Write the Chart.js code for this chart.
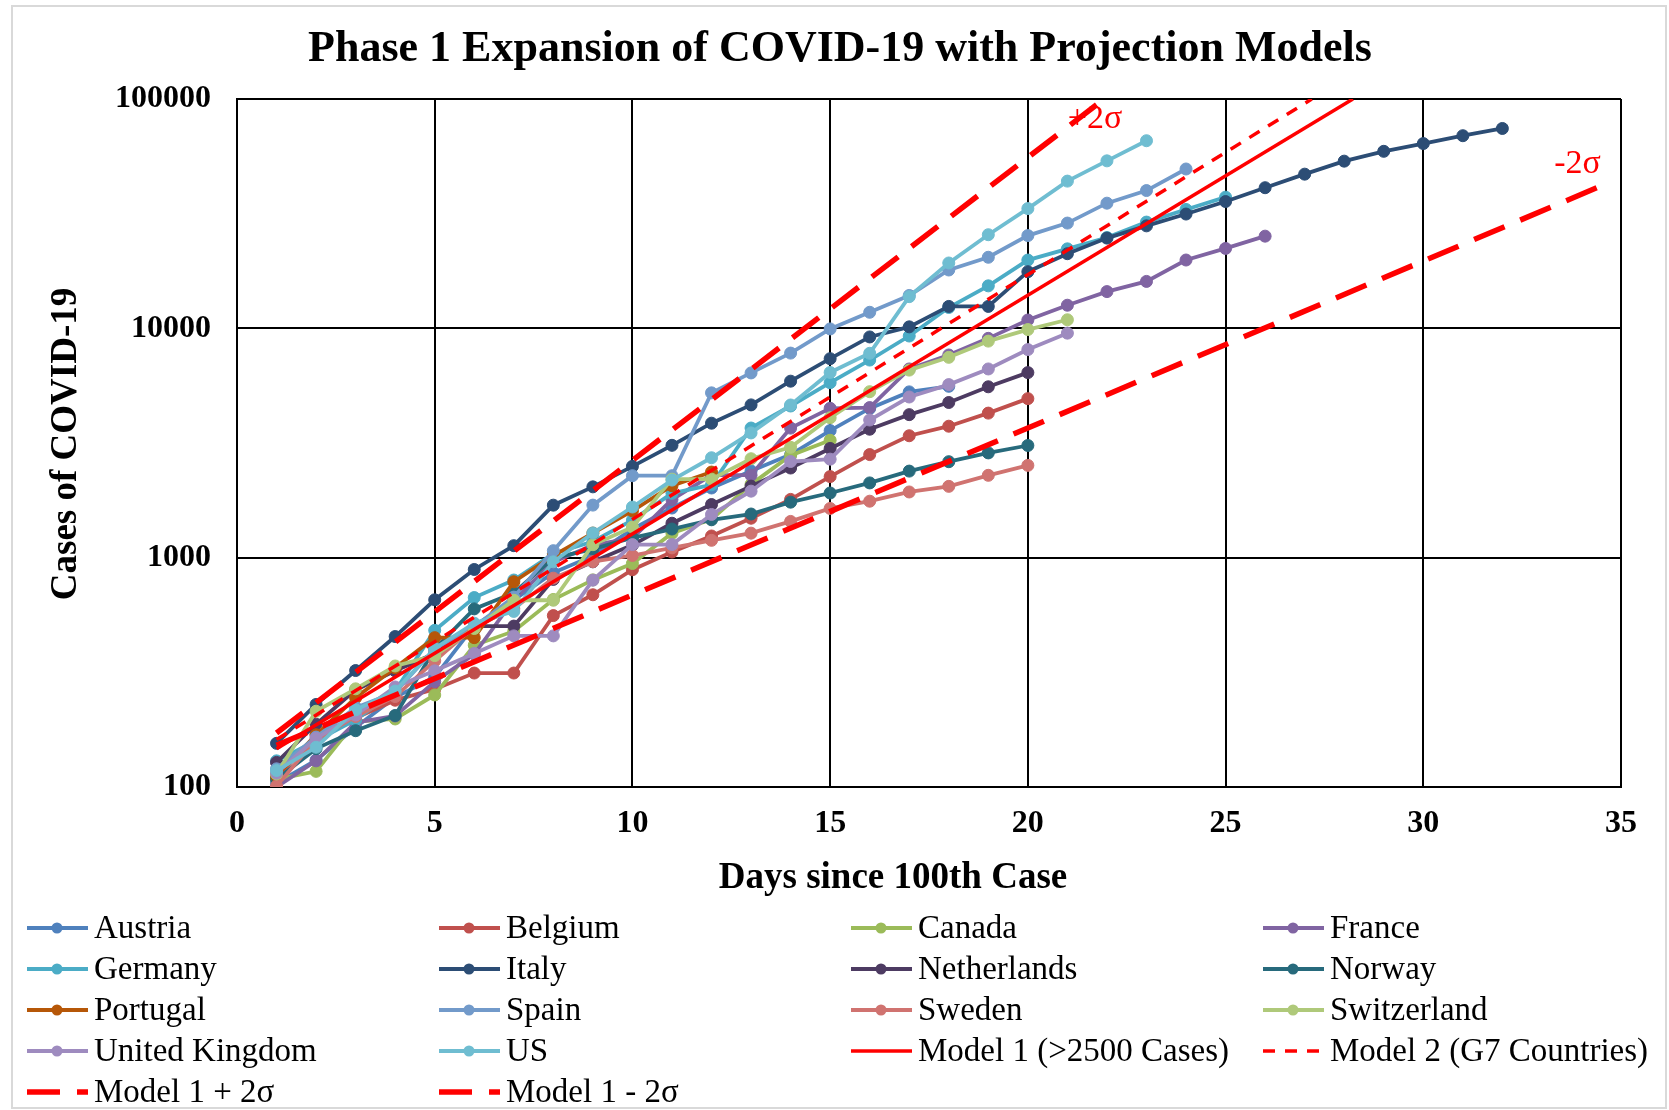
<!DOCTYPE html>
<html>
<head>
<meta charset="utf-8">
<title>Phase 1 Expansion of COVID-19 with Projection Models</title>
<script src="https://cdn.jsdelivr.net/npm/chart.js@4.4.1/dist/chart.umd.min.js"></script>
<style>
  html, body { margin: 0; padding: 0; background: #fff; }
  #wrap { width: 1669px; height: 1110px; position: relative; }
</style>
</head>
<body>
<div id="wrap"><canvas id="covidChart"></canvas></div>
<script>
// cases per day since the 100th case
const austria = [104, 131, 182, 246, 302, 504, 655, 860, 1018, 1332, 1646, 2013, 2388, 2814, 3582, 4474, 5283, 5588];
const belgium = [109, 169, 200, 239, 267, 314, 314, 559, 689, 886, 1058, 1243, 1486, 1795, 2257, 2815, 3401, 3743, 4269, 4937];
const canada = [108, 117, 193, 198, 252, 415, 478, 657, 800, 943, 1277, 1469, 2088, 2790, 3251];
const france = [100, 130, 191, 204, 288, 380, 656, 957, 1134, 1217, 1792, 2290, 2290, 3672, 4480, 4513, 6650, 7652, 9043, 10871, 12612, 14459, 16018, 19856, 22304, 25233];
const germany = [130, 159, 196, 262, 482, 670, 799, 1040, 1176, 1457, 1908, 2078, 3675, 4585, 5795, 7272, 9257, 12327, 15320, 19848, 22213, 24873, 29056, 32986, 37323];
const italy = [155, 229, 322, 453, 655, 888, 1128, 1694, 2036, 2502, 3089, 3858, 4636, 5883, 7375, 9172, 10149, 12462, 12462, 17660, 21157, 24747, 27980, 31506, 35713, 41035, 47021, 53578, 59138, 63927, 69176, 74386];
const netherlands = [128, 188, 265, 321, 382, 503, 503, 804, 959, 1135, 1413, 1705, 2051, 2460, 2994, 3631, 4204, 4749, 5560, 6412];
const norway = [108, 147, 176, 205, 400, 598, 702, 996, 1090, 1221, 1333, 1463, 1550, 1746, 1914, 2118, 2385, 2621, 2863, 3084];
const portugal = [112, 169, 245, 331, 448, 448, 785, 1020, 1280, 1600, 2060, 2362];
const spain = [120, 165, 222, 259, 400, 500, 673, 1073, 1695, 2277, 2277, 5232, 6391, 7798, 9942, 11748, 13910, 17963, 20410, 25374, 28768, 35136, 39885, 49515];
const sweden = [101, 161, 203, 248, 355, 500, 599, 814, 961, 1022, 1103, 1190, 1279, 1439, 1639, 1763, 1934, 2046, 2286, 2526];
const switzerland = [114, 214, 268, 337, 374, 491, 652, 652, 1139, 1359, 2200, 2200, 2700, 3028, 4075, 5294, 6575, 7474, 8795, 9877, 10897];
const unitedKingdom = [115, 163, 206, 273, 321, 382, 456, 456, 798, 1140, 1140, 1543, 1950, 2626, 2689, 3983, 5018, 5683, 6650, 8077, 9529];
const us = [118, 149, 217, 262, 402, 518, 583, 959, 1281, 1663, 2179, 2727, 3499, 4632, 6421, 7783, 13747, 19273, 25600, 33276, 43843, 53740, 65778];

const countryNames = ["Austria", "Belgium", "Canada", "France", "Germany", "Italy", "Netherlands", "Norway",
  "Portugal", "Spain", "Sweden", "Switzerland", "United Kingdom", "US"];
const countrySeries = [austria, belgium, canada, france, germany, italy, netherlands, norway,
  portugal, spain, sweden, switzerland, unitedKingdom, us];
const countryColors = ["#4f81bd", "#c0504d", "#9bbb59", "#8064a2", "#4bacc6", "#2c4d75", "#4d3b62", "#276a7c",
  "#b65708", "#729aca", "#d07370", "#afc97a", "#9e8bbf", "#6fbdd1"];

// projection lines: start and end points
const modelNames = ["Model 1 (>2500 Cases)", "Model 2 (G7 Countries)", "Model 1 + 2\u03c3", "Model 1 - 2\u03c3"];
const modelDays = [[1, 28.22], [1, 27.18], [1, 21.93], [1, 34.6]];
const modelCases = [[147, 100000], [161, 100000], [172, 100000], [152, 42500]];

const xTicks = [0, 5, 10, 15, 20, 25, 30, 35];
const yTicks = [100, 1000, 10000, 100000];

const sigmaLabels = [
  { text: "+2\u03c3", day: 21.7, cases: 82000 },
  { text: "-2\u03c3", day: 33.9, cases: 52000 }
];

const serif = "'Liberation Serif', 'Times New Roman', serif";

let datasets = [];
countrySeries.forEach((values, i) => {
  datasets.push({
    label: countryNames[i],
    data: values.map((v, d) => ({ x: d + 1, y: v })),
    borderColor: countryColors[i],
    backgroundColor: countryColors[i],
    pointBackgroundColor: countryColors[i],
    pointBorderColor: countryColors[i],
    borderWidth: 3.8,
    pointRadius: 6,
    pointBorderWidth: 1,
    tension: 0
  });
});

const modelStyles = [
  { width: 3.5, dash: [] },
  { width: 3.5, dash: [12, 10] },
  { width: 5.5, dash: [33, 17] },
  { width: 5.5, dash: [33, 17] }
];
modelNames.forEach((name, i) => {
  datasets.push({
    label: name,
    data: modelDays[i].map((d, k) => ({ x: d, y: modelCases[i][k] })),
    borderColor: "#ff0000",
    backgroundColor: "#ff0000",
    borderWidth: modelStyles[i].width,
    borderDash: modelStyles[i].dash,
    pointRadius: 0,
    tension: 0
  });
});
// later series are painted on top, like the original
datasets.forEach((ds, i) => { ds.order = datasets.length - i; });

const framePlugin = {
  id: "framePlugin",
  beforeDraw(chart) {
    const ctx = chart.ctx;
    ctx.save();
    ctx.fillStyle = "#fff";
    ctx.fillRect(0, 0, chart.width, chart.height);
    ctx.strokeStyle = "#d9d9d9";
    ctx.lineWidth = 2;
    ctx.strokeRect(12, 6, 1654, 1102);
    ctx.restore();
  },
  afterDraw(chart) {
    const ctx = chart.ctx;
    const xs = chart.scales.x, ys = chart.scales.y;
    ctx.save();
    ctx.fillStyle = "#000";
    ctx.textAlign = "center";
    ctx.textBaseline = "middle";

    ctx.font = "bold 44px " + serif;
    ctx.fillText("Phase 1 Expansion of COVID-19 with Projection Models", 840, 50);

    ctx.font = "bold 37px " + serif;
    ctx.fillText("Days since 100th Case", 893, 878);

    ctx.save();
    ctx.translate(66, 444);
    ctx.rotate(-Math.PI / 2);
    ctx.fillText("Cases of COVID-19", 0, 0);
    ctx.restore();

    // sigma labels
    ctx.fillStyle = "#ff0000";
    ctx.font = "34px " + serif;
    sigmaLabels.forEach(l => {
      ctx.fillText(l.text, xs.getPixelForValue(l.day), ys.getPixelForValue(l.cases));
    });

    // legend, 4 columns
    ctx.textAlign = "left";
    ctx.font = "33px " + serif;
    chart.data.datasets.forEach((ds, i) => {
      const col = i % 4, row = Math.floor(i / 4);
      const x0 = 27 + col * 412;
      const y = 928 + row * 41;
      ctx.strokeStyle = ds.borderColor;
      ctx.lineWidth = ds.borderWidth;
      ctx.setLineDash(ds.borderDash || []);
      ctx.beginPath();
      ctx.moveTo(x0, y);
      ctx.lineTo(x0 + 61, y);
      ctx.stroke();
      ctx.setLineDash([]);
      if (ds.pointRadius > 0) {
        ctx.fillStyle = ds.borderColor;
        ctx.beginPath();
        ctx.arc(x0 + 30, y, 5.5, 0, Math.PI * 2);
        ctx.fill();
      }
      ctx.fillStyle = "#000";
      ctx.fillText(ds.label, x0 + 67, y + 1);
    });
    ctx.restore();
  }
};

const tickFont = { family: serif, size: 32, weight: "bold" };

new Chart(document.getElementById("covidChart"), {
  type: "line",
  data: { datasets: datasets },
  options: {
    responsive: true,
    maintainAspectRatio: false,
    animation: false,
    layout: { padding: { top: 99, right: 48, left: 0, bottom: 0 } },
    plugins: {
      legend: { display: false },
      title: { display: false },
      tooltip: { enabled: false }
    },
    scales: {
      x: {
        type: "linear",
        min: 0,
        max: 35,
        afterBuildTicks: s => { s.ticks = xTicks.map(v => ({ value: v })); },
        afterFit: s => { s.height = 323; },
        ticks: { font: tickFont, color: "#000", padding: 18, maxRotation: 0 },
        grid: { color: "#000", lineWidth: 2, drawTicks: false },
        border: { color: "#000", width: 2 }
      },
      y: {
        type: "logarithmic",
        min: 100,
        max: 100000,
        afterBuildTicks: s => { s.ticks = yTicks.map(v => ({ value: v })); },
        afterFit: s => { s.width = 237; },
        ticks: { font: tickFont, color: "#000", padding: 26, callback: v => String(v) },
        grid: { color: "#000", lineWidth: 2, drawTicks: false },
        border: { color: "#000", width: 2 }
      }
    }
  },
  plugins: [framePlugin]
});
</script>
</body>
</html>
